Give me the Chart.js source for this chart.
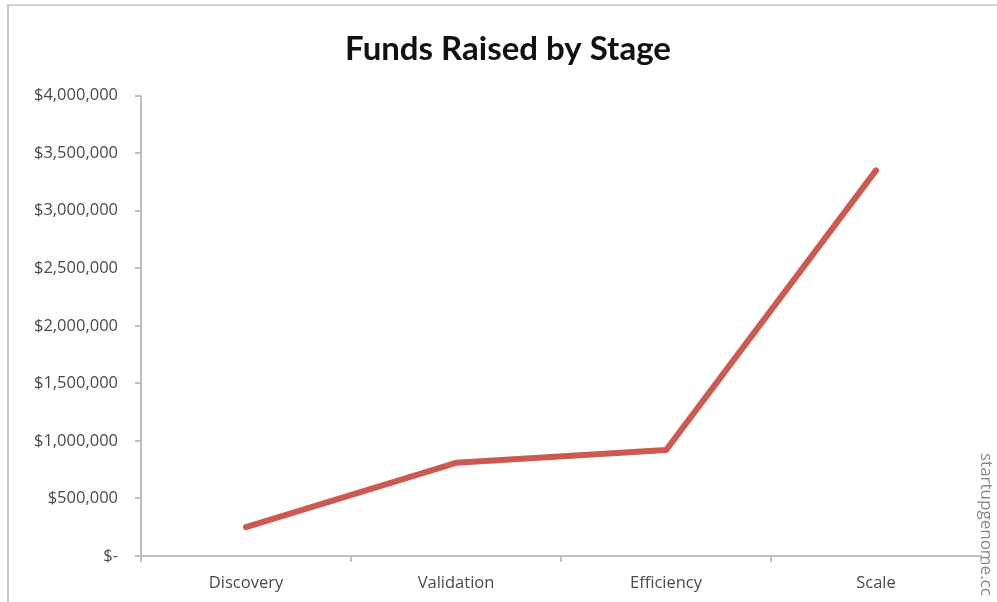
<!DOCTYPE html>
<html>
<head>
<meta charset="utf-8">
<script src="https://cdn.jsdelivr.net/npm/chart.js@4"></script>
<style>
  html, body { margin: 0; padding: 0; background: #fff; }
  #wrap { position: relative; width: 997px; height: 602px; overflow: hidden; }
  #frame { position: absolute; left: 7px; top: 4px; width: 1200px; height: 700px; border-top: 2px solid #d4d4d4; border-left: 2px solid #c8c8c8; box-sizing: border-box; pointer-events: none; }
  #wm { position: absolute; left: 982px; top: 453px; transform-origin: 0 0; transform: translate(17px, 0) rotate(90deg); font-family: "Open Sans", sans-serif; font-size: 17px; color: #888; white-space: nowrap; }
  canvas { position: absolute; left: 0; top: 0; }
</style>
</head>
<body>
<div id="wrap">
  <canvas id="c" width="997" height="602"></canvas>
  <div id="frame"></div>
  <div id="wm">startupgenome.cc</div>
</div>
<script>
const titleText = "Funds Raised by Stage";
const stages = ["Discovery", "Validation", "Efficiency", "Scale"];
const fundsRaised = [250000, 810000, 920000, 3350000];
const yTicks = [0, 500000, 1000000, 1500000, 2000000, 2500000, 3000000, 3500000, 4000000];

function fmtMoney(v) {
  if (v === 0) return "$-";
  return "$" + v.toLocaleString("en-US");
}

new Chart(document.getElementById("c"), {
  type: "line",
  data: {
    labels: stages,
    datasets: [{
      data: fundsRaised,
      borderColor: "#cd5a50",
      borderWidth: 6,
      pointRadius: 0,
      tension: 0,
      borderCapStyle: "round",
      borderJoinStyle: "round",
      fill: false
    }]
  },
  options: {
    responsive: false,
    animation: false,
    layout: { padding: { left: 35, right: 16, top: 0, bottom: 0 } },
    plugins: {
      legend: { display: false },
      tooltip: { enabled: false },
      title: {
        display: true,
        text: titleText,
        color: "#111",
        font: { family: "Lato", size: 33, weight: "bold" },
        padding: { top: 30, bottom: 26 }
      }
    },
    scales: {
      x: {
        offset: true,
        grid: { offset: true, drawOnChartArea: false, drawTicks: true, tickLength: 6, color: "#bfbfbf", lineWidth: 2 },
        border: { display: true, color: "#bfbfbf", width: 2 },
        ticks: { color: "#4a4a4a", font: { family: "Open Sans", size: 16.5 }, padding: 11, maxRotation: 0 },
        afterFit: s => { s.height = 46; }
      },
      y: {
        min: 0,
        max: 4000000,
        afterBuildTicks: s => { s.ticks = yTicks.map(v => ({ value: v })); },
        grid: { drawOnChartArea: false, drawTicks: true, tickLength: 6, color: "#bfbfbf", lineWidth: 2 },
        border: { display: true, color: "#bfbfbf", width: 2 },
        ticks: { color: "#4a4a4a", font: { family: "Open Sans", size: 16.5 }, padding: 17, callback: v => fmtMoney(v) },
        afterFit: s => { s.width = 106; }
      }
    }
  }
});
</script>
</body>
</html>
